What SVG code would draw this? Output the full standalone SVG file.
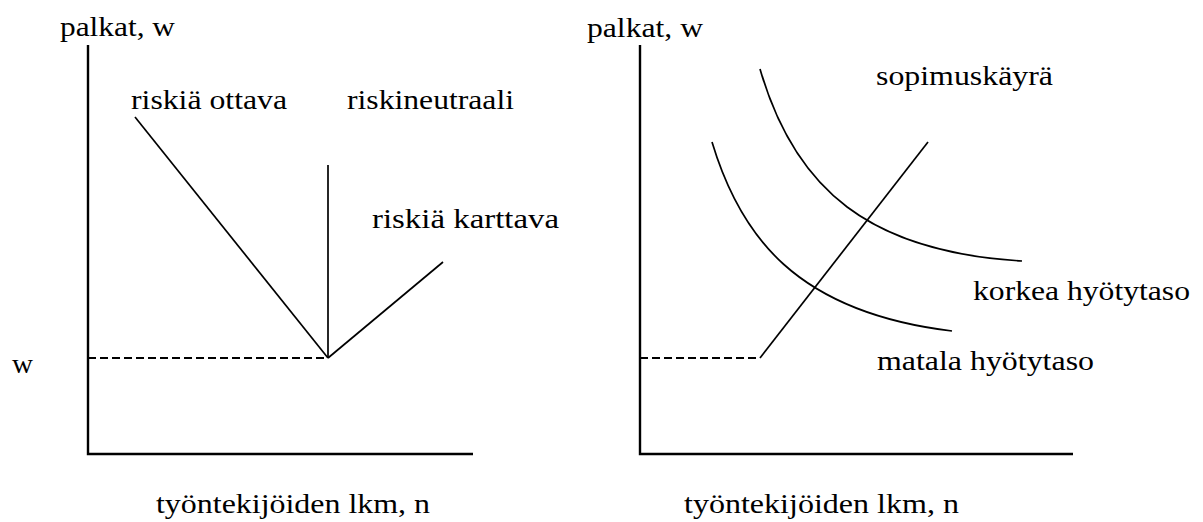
<svg xmlns="http://www.w3.org/2000/svg" width="1203" height="522" viewBox="0 0 1203 522">
<style>
text{font-family:'Liberation Serif','Times New Roman',Times,serif;font-size:28px;fill:#000}
.ax{stroke:#000;stroke-width:2.4;fill:none}
.ln{stroke:#000;stroke-width:1.7;fill:none}
.ds{stroke:#000;stroke-width:2;fill:none;stroke-dasharray:8 4}
</style>
<rect width="1203" height="522" fill="#fff"/>
<g id="left-chart">
<g id="left-axes">
<polyline class="ax" points="88,45 88,454 473,454"/>
</g>
<g id="left-labels">
<text x="60" y="36" textLength="115" lengthAdjust="spacingAndGlyphs">palkat, w</text>
<text x="12" y="373" textLength="21" lengthAdjust="spacingAndGlyphs">w</text>
<text x="156" y="513" textLength="274" lengthAdjust="spacingAndGlyphs">työntekijöiden lkm, n</text>
</g>
<g id="riskia-ottava">
<text x="131" y="109" textLength="156" lengthAdjust="spacingAndGlyphs">riskiä ottava</text>
</g>
<g id="riskineutraali">
<text x="347" y="109" textLength="167" lengthAdjust="spacingAndGlyphs">riskineutraali</text>
</g>
<g id="riskia-karttava">
<text x="372" y="228" textLength="187" lengthAdjust="spacingAndGlyphs">riskiä karttava</text>
</g>
</g>
<g id="right-chart">
<g id="right-axes">
<polyline class="ax" points="640,45 640,454 1073,454"/>
</g>
<g id="right-labels">
<text x="587" y="37" textLength="116" lengthAdjust="spacingAndGlyphs">palkat, w</text>
<text x="684" y="513" textLength="275" lengthAdjust="spacingAndGlyphs">työntekijöiden lkm, n</text>
</g>
<g id="sopimuskayra">
<text x="876" y="85" textLength="177" lengthAdjust="spacingAndGlyphs">sopimuskäyrä</text>
</g>
<g id="korkea-hyotytaso">
<text x="973" y="300" textLength="217" lengthAdjust="spacingAndGlyphs">korkea hyötytaso</text>
</g>
<g id="matala-hyotytaso">
<text x="877" y="370" textLength="217" lengthAdjust="spacingAndGlyphs">matala hyötytaso</text>
</g>
</g>
<g id="connectors">
<line class="ds" x1="88" y1="358" x2="328" y2="358"/>
<line class="ln" x1="135" y1="117" x2="328" y2="358"/>
<line class="ln" x1="328" y1="165" x2="328" y2="358"/>
<line class="ln" x1="328" y1="358" x2="443" y2="262"/>
<line class="ds" x1="640" y1="358" x2="760" y2="358"/>
<line class="ln" x1="760" y1="358" x2="928" y2="142"/>
<path class="ln" d="M760,69 C795,190 870,252 1022,261"/>
<path class="ln" d="M712,142 C740,235 795,312 952,331"/>
</g>
</svg>
